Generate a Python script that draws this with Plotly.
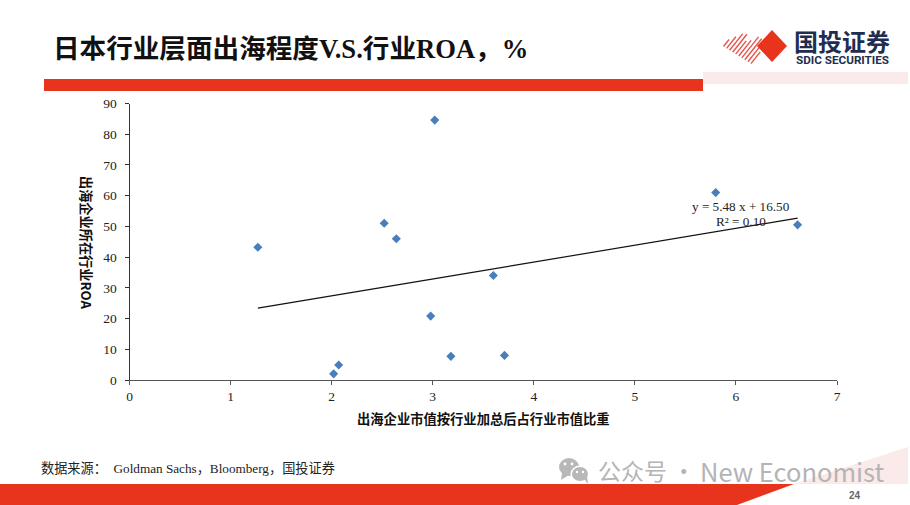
import plotly.graph_objects as go

W, H = 910, 505
roa_x = [1.27, 2.02, 2.07, 2.52, 2.64, 2.98, 3.02, 3.18, 3.60, 3.71, 5.80, 6.61]
roa_y = [43.2, 2.0, 4.9, 51.0, 46.0, 20.8, 84.6, 7.7, 34.0, 8.0, 61.0, 50.5]
trend_x = [1.27, 6.61]
trend_y = [23.4, 52.7]
x_ticks = [0, 1, 2, 3, 4, 5, 6, 7]
y_ticks = [0, 10, 20, 30, 40, 50, 60, 70, 80, 90]

SERIF = "Liberation Serif, Times New Roman, serif"
CJK_SERIF = "Liberation Serif, Noto Sans CJK SC, serif"
SANS = "Noto Sans CJK SC, sans-serif"
RED = "#E8341C"
PINK = "#FAEAEA"
GREY = "#B8B8B8"


def px(x):
    return x / W


def py(y):
    return 1 - y / H


def poly(points, color, layer="below"):
    path = "M" + " L".join(f"{px(a):.5f},{py(b):.5f}" for a, b in points) + " Z"
    return dict(type="path", xref="paper", yref="paper", path=path,
                fillcolor=color, line=dict(width=0), layer=layer)


def seg(x0, y0, x1, y1, color, width):
    return dict(type="line", xref="paper", yref="paper", x0=px(x0), y0=py(y0),
                x1=px(x1), y1=py(y1), line=dict(color=color, width=width), layer="below")


def dot(cx, cy, rx, ry, color):
    return dict(type="circle", xref="paper", yref="paper", x0=px(cx - rx), x1=px(cx + rx),
                y0=py(cy - ry), y1=py(cy + ry), fillcolor=color, line=dict(width=0), layer="below")


shapes = [
    poly([(44, 79), (703, 79), (703, 91), (44, 91)], RED),
    poly([(703, 72), (908, 72), (908, 84), (703, 84)], PINK),
    poly([(0, 484), (794, 484), (737, 505), (0, 505)], RED),
    poly([(794, 484), (908, 447), (908, 484)], PINK),
]
# hatched half of the logo
stripe_len = [9, 15, 21, 23, 17, 20, 27, 27, 21, 15]
for i, length in enumerate(stripe_len):
    sx, sy = 723.5 + 3.05 * i, 46.5 + 1.9 * i
    shapes.append(seg(sx, sy, sx + 0.62 * length, sy - 0.78 * length, "#E4554A", 1.4))
shapes.append(poly([(772, 30), (787, 46), (772, 62), (757, 46)], RED))
# speech bubbles next to the watermark
shapes += [
    dot(569, 467, 10, 9, GREY),
    poly([(562, 473), (561, 480), (569, 475)], GREY),
    dot(580, 474, 9.5, 8.5, "white"),
    dot(580, 474, 8, 7, GREY),
    poly([(584, 479), (588, 484), (587, 476)], GREY),
    dot(565, 464, 1.4, 1.4, "white"),
    dot(572, 464, 1.4, 1.4, "white"),
    dot(577, 472, 1.2, 1.2, "white"),
    dot(583, 472, 1.2, 1.2, "white"),
]

notes = [
    ("<b>日本行业层面出海程度V.S.行业ROA，%</b>", 51, 49, "left", 0,
     dict(family="Liberation Serif, Noto Sans CJK SC, serif", size=26.6, color="#111111")),
    ("<b>国投证券</b>", 791.5, 41, "left", 0, dict(family=SANS, size=24, color="#1F2D50")),
    ("<b>SDIC SECURITIES</b>", 794, 60, "left", 0,
     dict(family="Liberation Sans Narrow, Roboto, sans-serif", size=11.7, color="#1F2D50")),
    ("出海企业所在行业ROA", 87, 242, "center", 90,
     dict(family=SANS, size=13.2, color="#111111", weight="bold")),
    ("出海企业市值按行业加总后占行业市值比重", 483, 418, "center", 0,
     dict(family=SANS, size=13.3, color="#111111", weight="bold")),
    ("y = 5.48 x + 16.50", 741, 207, "center", 0, dict(family=SERIF, size=13.2, color="#222222")),
    ("R² = 0.10", 741, 222, "center", 0, dict(family=SERIF, size=13.2, color="#222222")),
    ("数据来源：  Goldman Sachs，Bloomberg，国投证券", 39, 468, "left", 0,
     dict(family=CJK_SERIF, size=13.2, color="#222222")),
    ("公众号 ·", 596, 470, "left", 0, dict(family=SANS, size=23, color="#B4B4B4")),
    ("New Economist", 698, 470, "left", 0, dict(family=SANS, size=25.5, color="#B4B4B4")),
    ("<b>24</b>", 855, 495, "center", 0, dict(family="Liberation Sans, sans-serif", size=10, color="#666666")),
]
annotations = [
    dict(text=t, xref="paper", yref="paper", x=px(x), y=py(y), xanchor=a, yanchor="middle",
         textangle=ang, showarrow=False, font=f)
    for t, x, y, a, ang, f in notes
]

fig = go.Figure()
fig.add_trace(go.Scatter(x=trend_x, y=trend_y, mode="lines", line=dict(color="#111111", width=1.2),
                         hoverinfo="skip", showlegend=False))
fig.add_trace(go.Scatter(x=roa_x, y=roa_y, mode="markers",
                         marker=dict(symbol="diamond", size=7, color="#4A7EBB"), showlegend=False))

axis_font = dict(family=SERIF, size=13.5, color="#222222")
fig.update_layout(
    width=W, height=H, margin=dict(l=0, r=0, t=0, b=0, pad=0, autoexpand=False), autosize=False,
    paper_bgcolor="white", plot_bgcolor="white", showlegend=False,
    shapes=shapes, annotations=annotations,
    xaxis=dict(domain=[129.5 / W, 837 / W], range=[0, 7], tickvals=x_ticks, ticks="outside", ticklen=4,
               showgrid=False, zeroline=False, showline=True, linecolor="#555555", linewidth=1,
               tickcolor="#555555", tickfont=axis_font),
    yaxis=dict(domain=[1 - 380 / H, 1 - 103.5 / H], range=[0, 90], tickvals=y_ticks, ticks="outside", ticklen=4,
               ticklabelstandoff=5, showgrid=False, zeroline=False, showline=True, linecolor="#333333", linewidth=1,
               tickcolor="#333333", tickfont=axis_font),
)
fig.write_html("out.html", config={"displayModeBar": False}, post_script="document.body.style.margin='0';")
